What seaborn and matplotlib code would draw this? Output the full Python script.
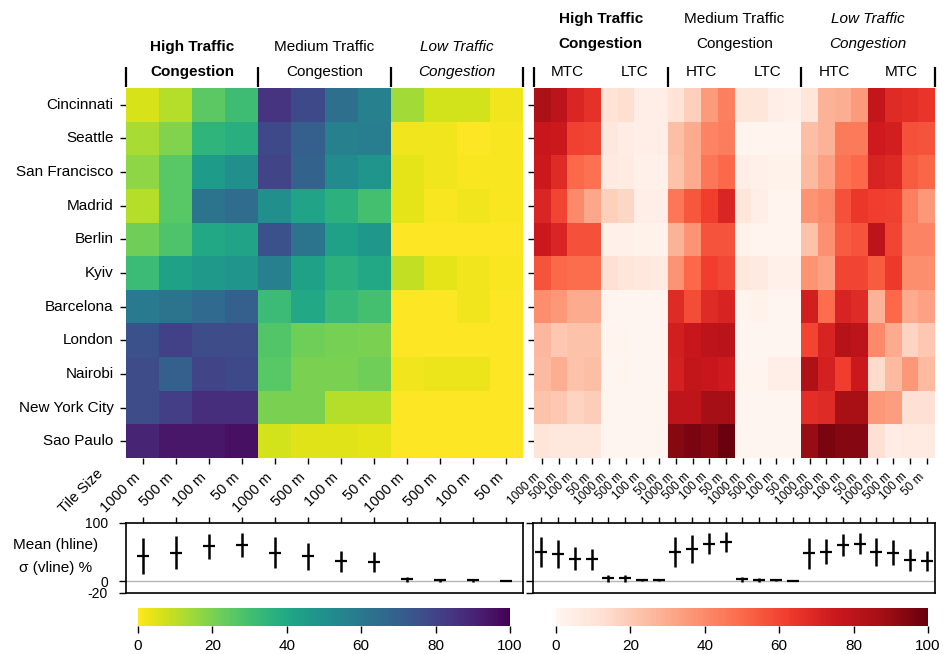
import numpy as np
import matplotlib
matplotlib.use("Agg")
import matplotlib.pyplot as plt
import matplotlib.transforms as mtransforms
from matplotlib.lines import Line2D
import seaborn as sns

sns.set_theme(style="ticks", rc={
    "text.color": "black", "axes.labelcolor": "black",
    "xtick.color": "black", "ytick.color": "black",
    "axes.edgecolor": "black",
})
plt.rcParams["font.family"] = ["Liberation Sans", "DejaVu Sans"]
plt.rcParams["axes.unicode_minus"] = False

# ---------------------------------------------------------------- data
cities = ["Cincinnati", "Seattle", "San Francisco", "Madrid", "Berlin", "Kyiv",
          "Barcelona", "London", "Nairobi", "New York City", "Sao Paulo"]
tile_sizes = ["1000 m", "500 m", "100 m", "50 m"]
groups = ["High Traffic", "Medium Traffic", "Low Traffic"]
group_styles = [("bold", "normal"), ("normal", "normal"), ("normal", "italic")]
pair_labels = [["MTC", "LTC"], ["HTC", "LTC"], ["HTC", "MTC"]]

# share of each city's tiles per congestion class (%), one row per city
left_htc = [[6, 11, 25, 31], [13, 19, 35, 37], [17, 26, 45, 50], [11, 26, 62, 65],
            [22, 28, 40, 42], [32, 43, 46, 48], [59, 62, 66, 70], [75, 81, 77, 77],
            [77, 70, 80, 78], [77, 82, 87, 87], [90, 94, 94, 96]]
left_mtc = [[85, 78, 64, 57], [78, 70, 57, 58], [80, 69, 52, 48], [50, 42, 36, 30],
            [75, 62, 43, 47], [57, 43, 36, 40], [32, 40, 33, 30], [27, 22, 21, 20],
            [26, 20, 20, 22], [20, 20, 11, 11], [7, 5, 5, 4]]
left_ltc = [[14, 7, 7, 2], [2, 2, 0, 1], [4, 2, 1, 1], [4, 1, 2, 1],
            [0, 0, 0, 0], [9, 4, 2, 1], [0, 0, 2, 0], [0, 0, 0, 0],
            [2, 3, 3, 0], [0, 0, 0, 0], [0, 0, 0, 0]]

# pairwise confusion between congestion classes (%), one row per city
right_htc_mtc = [[85, 80, 70, 66], [76, 75, 61, 60], [75, 68, 50, 48], [70, 60, 40, 31],
                 [75, 70, 57, 57], [56, 50, 49, 49], [39, 36, 30, 30], [26, 21, 23, 23],
                 [25, 29, 23, 24], [23, 21, 17, 19], [10, 8, 8, 8]]
right_htc_ltc = [[11, 13, 4, 4], [8, 5, 4, 4], [7, 6, 3, 3], [18, 16, 4, 4],
                 [3, 3, 2, 2], [12, 9, 8, 7], [0, 0, 0, 0], [1, 1, 0, 0],
                 [0, 1, 0, 1], [0, 0, 0, 0], [0, 0, 0, 0]]
right_mtc_htc = [[11, 18, 35, 43], [24, 30, 42, 44], [23, 30, 46, 50], [46, 55, 62, 70],
                 [28, 37, 56, 56], [37, 50, 62, 59], [68, 58, 68, 71], [73, 76, 80, 81],
                 [72, 78, 76, 74], [79, 79, 87, 87], [93, 96, 94, 99]]
right_mtc_ltc = [[9, 9, 4, 2], [1, 1, 1, 1], [4, 3, 2, 2], [9, 4, 1, 1],
                 [2, 1, 1, 1], [8, 7, 3, 3], [1, 2, 0, 0], [0, 0, 0, 0],
                 [1, 1, 4, 4], [0, 0, 0, 0], [0, 0, 0, 0]]
right_ltc_htc = [[9, 28, 29, 35], [24, 28, 45, 45], [25, 33, 47, 50], [37, 40, 57, 64],
                 [23, 38, 54, 56], [37, 33, 60, 60], [73, 49, 71, 68], [60, 71, 82, 80],
                 [84, 72, 62, 75], [67, 68, 86, 86], [90, 96, 94, 94]]
right_ltc_mtc = [[78, 68, 67, 65], [74, 73, 57, 56], [71, 69, 54, 51], [62, 61, 43, 36],
                 [80, 60, 42, 42], [54, 63, 39, 39], [28, 50, 30, 33], [40, 30, 17, 21],
                 [14, 25, 36, 25], [36, 34, 12, 12], [12, 5, 6, 6]]

left = np.hstack([left_htc, left_mtc, left_ltc]).astype(float)
right = np.hstack([right_htc_mtc, right_htc_ltc, right_mtc_htc,
                   right_mtc_ltc, right_ltc_htc, right_ltc_mtc]).astype(float)

# ---------------------------------------------------------------- layout
W, H = 947, 654
fig = plt.figure(figsize=(W / 100, H / 100), dpi=100)


def box(x0, y0, x1, y1):
    return [x0 / W, 1 - y1 / H, (x1 - x0) / W, (y1 - y0) / H]


def fy(y):
    return 1 - y / H


ax_l = fig.add_axes(box(126, 88, 523, 458))
ax_r = fig.add_axes(box(534, 88, 935, 458))
ax_le = fig.add_axes(box(126, 523, 523, 593))
ax_re = fig.add_axes(box(533, 523, 935, 593))
cax_l = fig.add_axes(box(138, 608, 510, 626))
cax_r = fig.add_axes(box(556, 608, 928, 626))

cbar_kws = {"orientation": "horizontal", "ticks": [0, 20, 40, 60, 80, 100]}
sns.heatmap(left, cmap="viridis_r", vmin=0, vmax=100, ax=ax_l, cbar_ax=cax_l,
            cbar_kws=cbar_kws, xticklabels=tile_sizes * 3, yticklabels=cities)
sns.heatmap(right, cmap="Reds", vmin=0, vmax=100, ax=ax_r, cbar_ax=cax_r,
            cbar_kws=cbar_kws, xticklabels=tile_sizes * 6, yticklabels=cities)

ax_l.set_yticklabels(cities, rotation=0, fontsize=11)
ax_l.set_xticklabels(tile_sizes * 3, rotation=45, ha="right", fontsize=10.5)
ax_r.set_xticklabels(tile_sizes * 6, rotation=45, ha="right", fontsize=8.5)
ax_r.tick_params(axis="y", labelleft=False)
for ax in (ax_l, ax_r):
    ax.tick_params(axis="both", bottom=True, left=True, length=4, width=1, pad=5)

for cax in (cax_l, cax_r):
    for sp in cax.spines.values():
        sp.set_visible(False)
    cax.tick_params(axis="x", labelsize=11, length=5, width=1, pad=4)
for hm in (ax_l, ax_r):
    hm.collections[0].colorbar.outline.set_visible(False)

# group headers and separators above the heatmaps
for ax, n_sub, header_y, show_pairs in ((ax_l, 4, (47, 72), False),
                                        (ax_r, 8, (19, 44), True)):
    trans = mtransforms.blended_transform_factory(ax.transData, fig.transFigure)
    for g, name in enumerate(groups):
        cx = g * n_sub + n_sub / 2
        weight, style = group_styles[g]
        ax.text(cx, fy(header_y[0]), name, transform=trans, ha="center", va="center",
                fontsize=11, fontweight=weight, fontstyle=style)
        ax.text(cx, fy(header_y[1]), "Congestion", transform=trans, ha="center",
                va="center", fontsize=11, fontweight=weight, fontstyle=style)
        if show_pairs:
            for k, lab in enumerate(pair_labels[g]):
                ax.text(g * n_sub + 2 + 4 * k, fy(72), lab, transform=trans,
                        ha="center", va="center", fontsize=11)
    for g in range(4):
        fig.add_artist(Line2D([g * n_sub, g * n_sub], [fy(67), fy(87)],
                              transform=trans, color="black", lw=1.6,
                              solid_capstyle="butt"))

fig.text(106 / W, fy(467), "Tile Size", rotation=45, ha="right", va="top", fontsize=10.5)

# mean / standard deviation of every column across cities
for ax, data in ((ax_le, left), (ax_re, right)):
    n = data.shape[1]
    x = np.arange(n) + 0.5
    ax.axhline(0, color="#b5b5b5", lw=1, zorder=0)
    ax.errorbar(x, data.mean(axis=0), yerr=data.std(axis=0), fmt="_", color="black",
                ms=8, mew=1.6, elinewidth=1.8, capsize=0)
    ax.set_xlim(0, n)
    ax.set_ylim(-20, 100)
    ax.set_xticks(x)
    ax.set_yticks([100, 0, -20])
    ax.tick_params(axis="x", top=True, bottom=False, labeltop=False,
                   labelbottom=False, length=4, width=1)
    ax.tick_params(axis="y", left=True, length=5, width=1, pad=8, labelsize=10)
    for sp in ax.spines.values():
        sp.set_visible(True)
        sp.set_linewidth(1.2)
        sp.set_color("black")
ax_re.tick_params(axis="y", labelleft=False)

fig.text(56 / W, fy(545), "Mean (hline)", ha="center", va="center", fontsize=11)
fig.text(56 / W, fy(568), "\u03c3 (vline) %", ha="center", va="center", fontsize=11)

fig.savefig("out.png", dpi=100)
